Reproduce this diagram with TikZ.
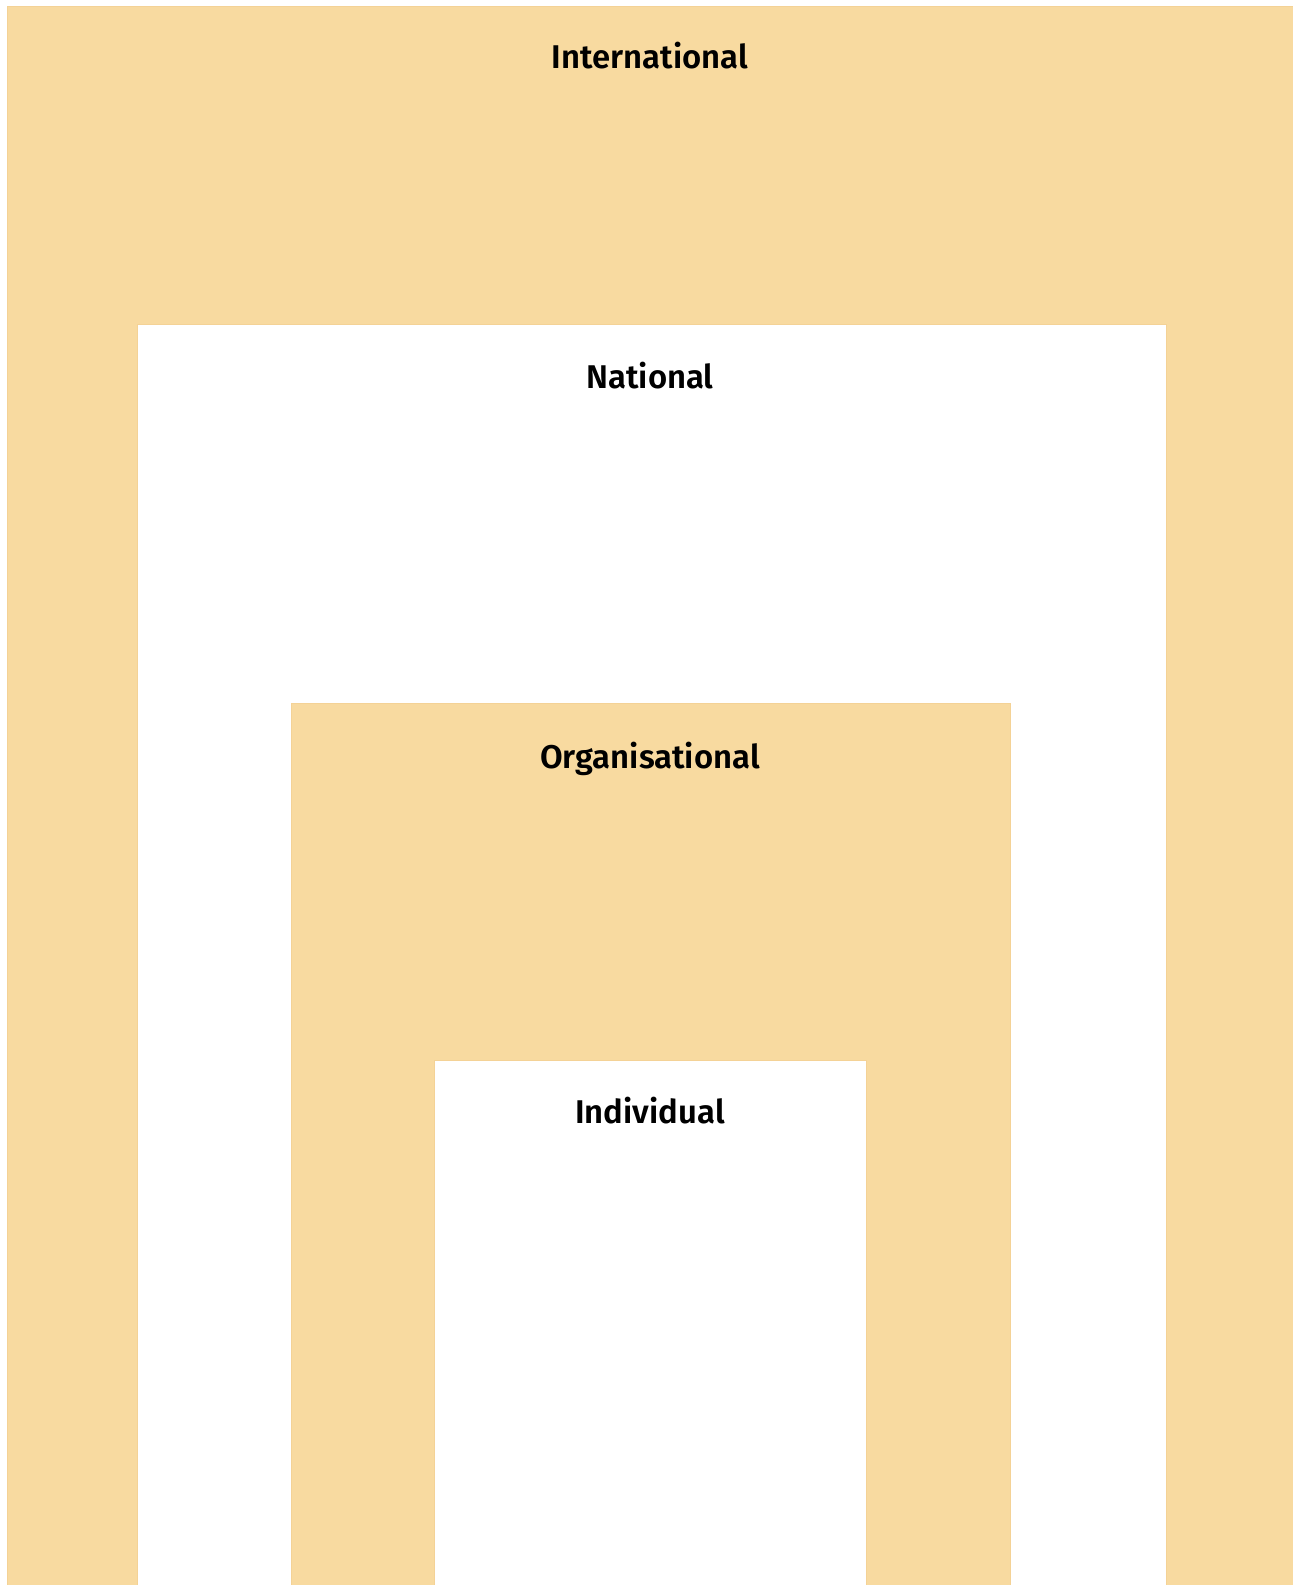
\documentclass[tikz,border=0pt]{standalone}
\usepackage{fontspec}
\setmainfont{Fira Sans}[BoldFont={Fira Sans SemiBold}]
\usetikzlibrary{positioning}
\definecolor{levelfill}{RGB}{248,218,160}
\definecolor{leveledge}{RGB}{244,210,150}
\tikzstyle{ring} = [fill=levelfill, draw=leveledge, line width=0.3pt]
\tikzstyle{hole} = [fill=white, draw=leveledge, line width=0.3pt]
\tikzstyle{level} = [anchor=base, inner sep=0pt, font=\fontsize{18.7}{22}\selectfont\bfseries, text=black]

\begin{document}
\begin{tikzpicture}[x=0.02cm, y=-0.02cm]
        \useasboundingbox (0,0) rectangle (1293,1585);
        \fill[white] (0,0) rectangle (1293,1585);
        \path[ring] (7,6) rectangle (1300,1590);
        \path[hole] (137,324) rectangle (1166,1590);
        \path[ring] (291,703) rectangle (1010,1590);
        \path[hole] (434,1060) rectangle (866,1590);
        \node (inter) [level] at (650,69) {International};
        \node (nat) [level] at (650,388) {National};
        \node (org) [level] at (650,768) {Organisational};
        \node (ind) [level] at (650,1123) {Individual};
      \end{tikzpicture}
\end{document}
